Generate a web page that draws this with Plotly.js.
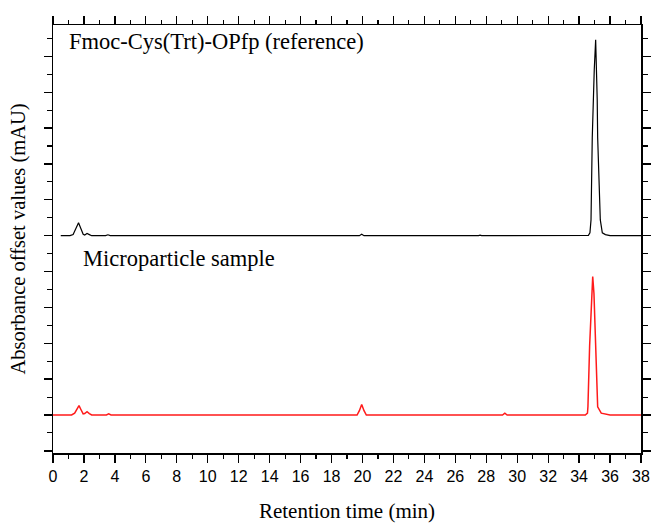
<!DOCTYPE html>
<html>
<head>
<meta charset="utf-8">
<script src="https://cdn.plot.ly/plotly-3.0.1.min.js"></script>
<style>html,body{margin:0;padding:0;background:#fff;}#chart{width:652px;height:523px;}</style>
</head>
<body>
<div id="chart"></div>
<script>
// Reference trace (offset baseline = 5)
const refTime = [0.5, 1.1, 1.3, 1.5, 1.65, 1.8, 1.95, 2.05, 2.2, 2.35, 2.5, 3.4, 3.55, 3.7,
  15.2, 15.35, 15.5, 19.8, 19.95, 20.1, 27.5, 27.6, 27.7,
  34.3, 34.6, 34.7, 34.77, 34.85, 34.92, 34.98, 35.07, 35.13, 35.17, 35.2, 35.37, 35.5, 35.7, 36.0, 38.0];
const refAbs = [5.0, 5.0, 5.03, 5.22, 5.36, 5.2, 5.04, 5.02, 5.06, 5.03, 5.0, 5.0, 5.025, 5.0,
  5.0, 5.02, 5.0, 5.0, 5.04, 5.0, 5.0, 5.015, 5.0,
  5.0, 5.01, 5.08, 5.44, 7.73, 8.9, 9.64, 10.46, 9.64, 8.8, 7.73, 5.44, 5.08, 5.03, 5.0, 5.0];

// Microparticle sample trace (baseline = 0)
const sampleTime = [0, 1.2, 1.4, 1.55, 1.68, 1.82, 1.95, 2.05, 2.2, 2.35, 2.5, 3.45, 3.6, 3.75,
  14.9, 15.04, 15.2, 19.65, 19.8, 19.95, 20.1, 20.25, 29.05, 29.2, 29.35,
  34.4, 34.54, 34.57, 34.68, 34.81, 34.88, 34.96, 35.05, 35.2, 35.43, 35.7, 36.0, 38.0];
const sampleAbs = [0, 0, 0.05, 0.18, 0.26, 0.14, 0.03, 0.04, 0.09, 0.04, 0, 0, 0.03, 0,
  0, 0.02, 0, 0, 0.12, 0.29, 0.12, 0, 0, 0.05, 0,
  0, 0.05, 0.23, 1.93, 3.39, 3.86, 3.39, 1.93, 0.23, 0.05, 0.02, 0, 0];

const xTickVals = [0,2,4,6,8,10,12,14,16,18,20,22,24,26,28,30,32,34,36,38];
const labelRef = "Fmoc-Cys(Trt)-OPfp (reference)";
const labelSample = "Microparticle sample";

const serif = '"Liberation Serif", "DejaVu Serif", serif';
const sans = '"Liberation Sans", Arial, sans-serif';

const data = [
  {x: refTime, y: refAbs, type: 'scatter', mode: 'lines', line: {color: '#000000', width: 1.2}, hoverinfo: 'skip'},
  {x: sampleTime, y: sampleAbs, type: 'scatter', mode: 'lines', line: {color: '#ff1a1a', width: 1.5}, hoverinfo: 'skip'}
];

const layout = {
  width: 652, height: 523,
  margin: {l: 53, r: 11, t: 25, b: 70},
  paper_bgcolor: '#fff', plot_bgcolor: '#fff',
  showlegend: false,
  xaxis: {
    range: [0, 38], tickvals: xTickVals, ticktext: xTickVals.map(String),
    ticks: 'outside', ticklen: 8, tickwidth: 1.3, tickcolor: '#000',
    minor: {dtick: 1, ticks: 'outside', ticklen: 4, tickwidth: 1.1, tickcolor: '#000'},
    showline: true, linecolor: '#000', linewidth: 1.5, mirror: 'ticks',
    showgrid: false, zeroline: false,
    tickfont: {family: sans, size: 16, color: '#000'},
    title: {text: 'Retention time (min)', font: {family: serif, size: 21, color: '#000'}, standoff: 22}
  },
  yaxis: {
    range: [-1.06, 10.875], tick0: 0, dtick: 1,
    ticks: 'outside', ticklen: 8, tickwidth: 1.3, tickcolor: '#000',
    minor: {dtick: 0.5, ticks: 'outside', ticklen: 5, tickwidth: 1.1, tickcolor: '#000'},
    showticklabels: false,
    showline: true, linecolor: '#000', linewidth: 1.5, mirror: 'ticks',
    showgrid: false, zeroline: false,
    title: {text: 'Absorbance offset values (mAU)', font: {family: serif, size: 20.5, color: '#000'}, standoff: 12}
  },
  annotations: [
    {x: 0.885, y: 10.42, xref: 'x', yref: 'y', text: labelRef, showarrow: false, xanchor: 'left', yanchor: 'middle',
     font: {family: serif, size: 22.5, color: '#000'}},
    {x: 1.79, y: 4.35, xref: 'x', yref: 'y', text: labelSample, showarrow: false, xanchor: 'left', yanchor: 'middle',
     font: {family: serif, size: 22.5, color: '#000'}}
  ]
};

Plotly.newPlot('chart', data, layout, {staticPlot: true, displayModeBar: false});
</script>
</body>
</html>
